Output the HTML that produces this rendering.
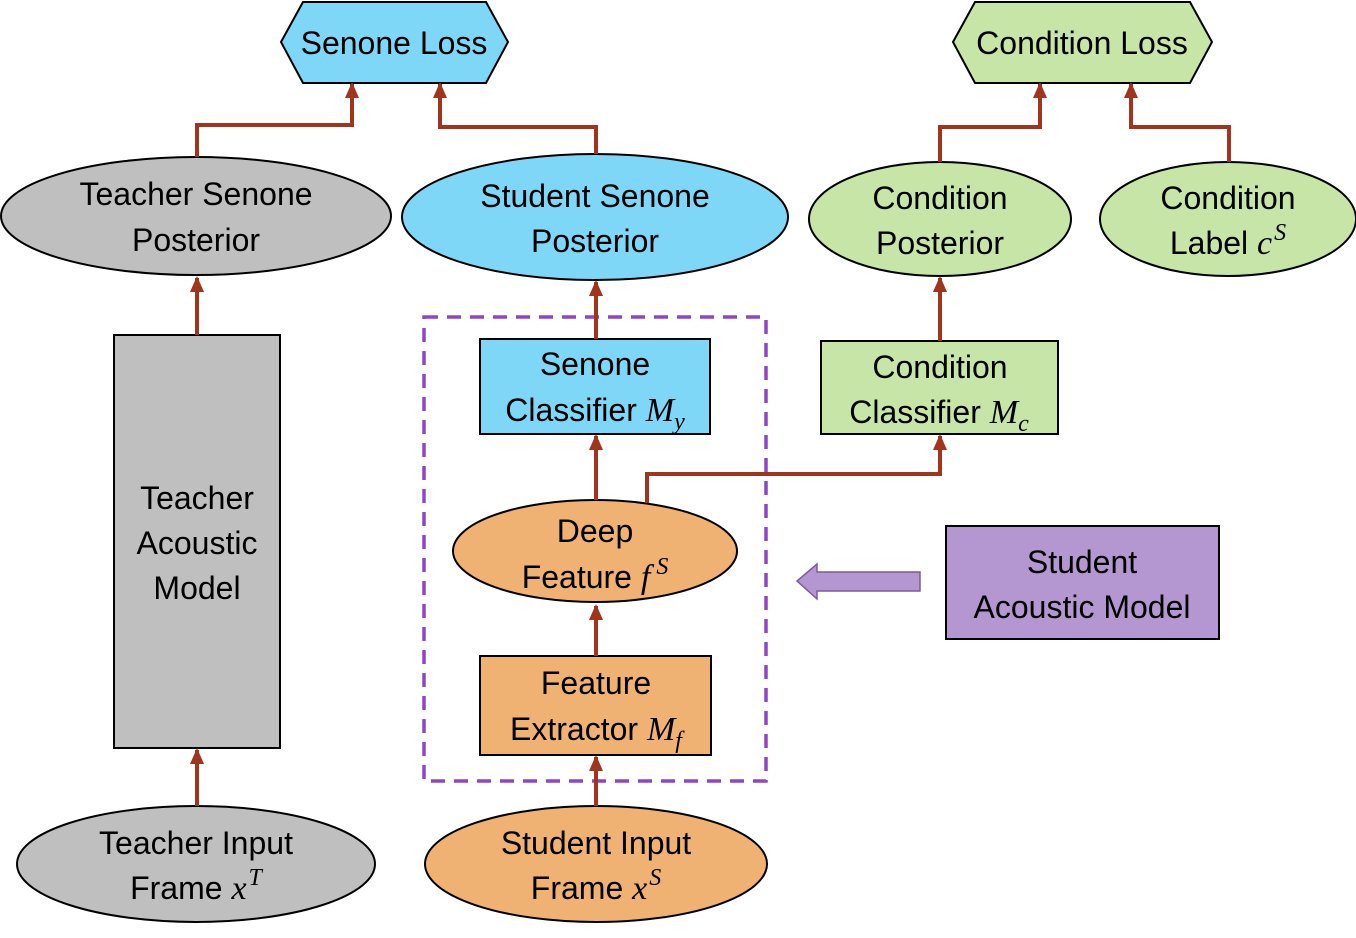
<!DOCTYPE html>
<html><head><meta charset="utf-8"><style>
html,body{margin:0;padding:0;background:#fff}
svg text{font-family:"Liberation Sans",sans-serif;font-size:32px;fill:#000}
.m{font-family:"Liberation Serif",serif;font-style:italic;font-size:34px}
.s{font-family:"Liberation Serif",serif;font-style:italic;font-size:24px}
</style></head><body>
<svg width="1356" height="933" viewBox="0 0 1356 933" xmlns="http://www.w3.org/2000/svg">
<defs><marker id="a" markerWidth="16" markerHeight="14" refX="14" refY="7" orient="auto" markerUnits="userSpaceOnUse" viewBox="0 0 16 14"><path d="M0,0 L16,7 L0,14 z" fill="#a0341c"/></marker></defs>
<g stroke="#000" stroke-width="2">
<polygon points="281,42 303,2 486,2 508,42 486,83 303,83" fill="#7fd7f7"/>
<polygon points="953,42 975,2 1190,2 1212,42 1190,83 975,83" fill="#c6e5a7"/>
<ellipse cx="196" cy="216" rx="195" ry="59" fill="#bfbfbf"/>
<ellipse cx="595" cy="217" rx="193" ry="63" fill="#7fd7f7"/>
<ellipse cx="940" cy="219" rx="131" ry="57" fill="#c6e5a7"/>
<ellipse cx="1228" cy="219" rx="128" ry="57" fill="#c6e5a7"/>
<rect x="114" y="335" width="166" height="413" fill="#bfbfbf"/>
<rect x="480" y="339" width="230" height="95" fill="#7fd7f7"/>
<rect x="821" y="341" width="237" height="93" fill="#c6e5a7"/>
<ellipse cx="595" cy="551" rx="142" ry="51" fill="#f0b272"/>
<rect x="480" y="656" width="231" height="99" fill="#f0b272"/>
<ellipse cx="196" cy="864" rx="179" ry="58" fill="#bfbfbf"/>
<ellipse cx="596" cy="864" rx="171" ry="58" fill="#f0b272"/>
<rect x="946" y="526" width="273" height="113" fill="#b497d0"/>
</g>
<rect x="424" y="317" width="342" height="464" fill="none" stroke="#8f45c9" stroke-width="3.5" stroke-dasharray="14,9"/>
<polygon points="920,572 817,572 817,564 797,581 817,599 817,591 920,591" fill="#b497d0" stroke="#7a5aa0" stroke-width="1.5"/>
<g fill="none" stroke="#a0341c" stroke-width="4" marker-end="url(#a)">
<path d="M197,157 V125 H352 V84"/>
<path d="M596,154 V127 H440 V84"/>
<path d="M940,162 V127 H1040 V84"/>
<path d="M1229,162 V127 H1131 V84"/>
<path d="M197,335 V278"/>
<path d="M197,806 V750"/>
<path d="M596,339 V282"/>
<path d="M596,500 V436"/>
<path d="M647,503 V474 H940 V436"/>
<path d="M940,341 V278"/>
<path d="M596,656 V606"/>
<path d="M596,806 V757"/>
</g>
<g text-anchor="middle">
<text x="394" y="54">Senone Loss</text>
<text x="1082" y="54">Condition Loss</text>
<text x="196" y="205">Teacher Senone</text>
<text x="196" y="251">Posterior</text>
<text x="595" y="207">Student Senone</text>
<text x="595" y="252">Posterior</text>
<text x="940" y="209">Condition</text>
<text x="940" y="254">Posterior</text>
<text x="1228" y="209">Condition</text>
<text x="197" y="509">Teacher</text>
<text x="197" y="554">Acoustic</text>
<text x="197" y="599">Model</text>
<text x="595" y="375">Senone</text>
<text x="595" y="542">Deep</text>
<text x="940" y="378">Condition</text>
<text x="596" y="694">Feature</text>
<text x="196" y="854">Teacher Input</text>
<text x="596" y="854">Student Input</text>
<text x="1082" y="573">Student</text>
<text x="1082" y="618">Acoustic Model</text>
<text x="1228" y="254">Label <tspan class="m">c</tspan><tspan class="s" dx="2" dy="-14">S</tspan></text>
<text x="595" y="421">Classifier <tspan class="m">M</tspan><tspan class="s" dy="8">y</tspan></text>
<text x="939" y="423">Classifier <tspan class="m">M</tspan><tspan class="s" dy="8">c</tspan></text>
<text x="595" y="588">Feature <tspan class="m">f</tspan><tspan class="s" dx="6" dy="-14">S</tspan></text>
<text x="596" y="740">Extractor <tspan class="m">M</tspan><tspan class="s" dy="8">f</tspan></text>
<text x="196" y="899">Frame <tspan class="m">x</tspan><tspan class="s" dx="2" dy="-14">T</tspan></text>
<text x="596" y="899">Frame <tspan class="m">x</tspan><tspan class="s" dx="2" dy="-14">S</tspan></text>
</g>
</svg>
</body></html>
